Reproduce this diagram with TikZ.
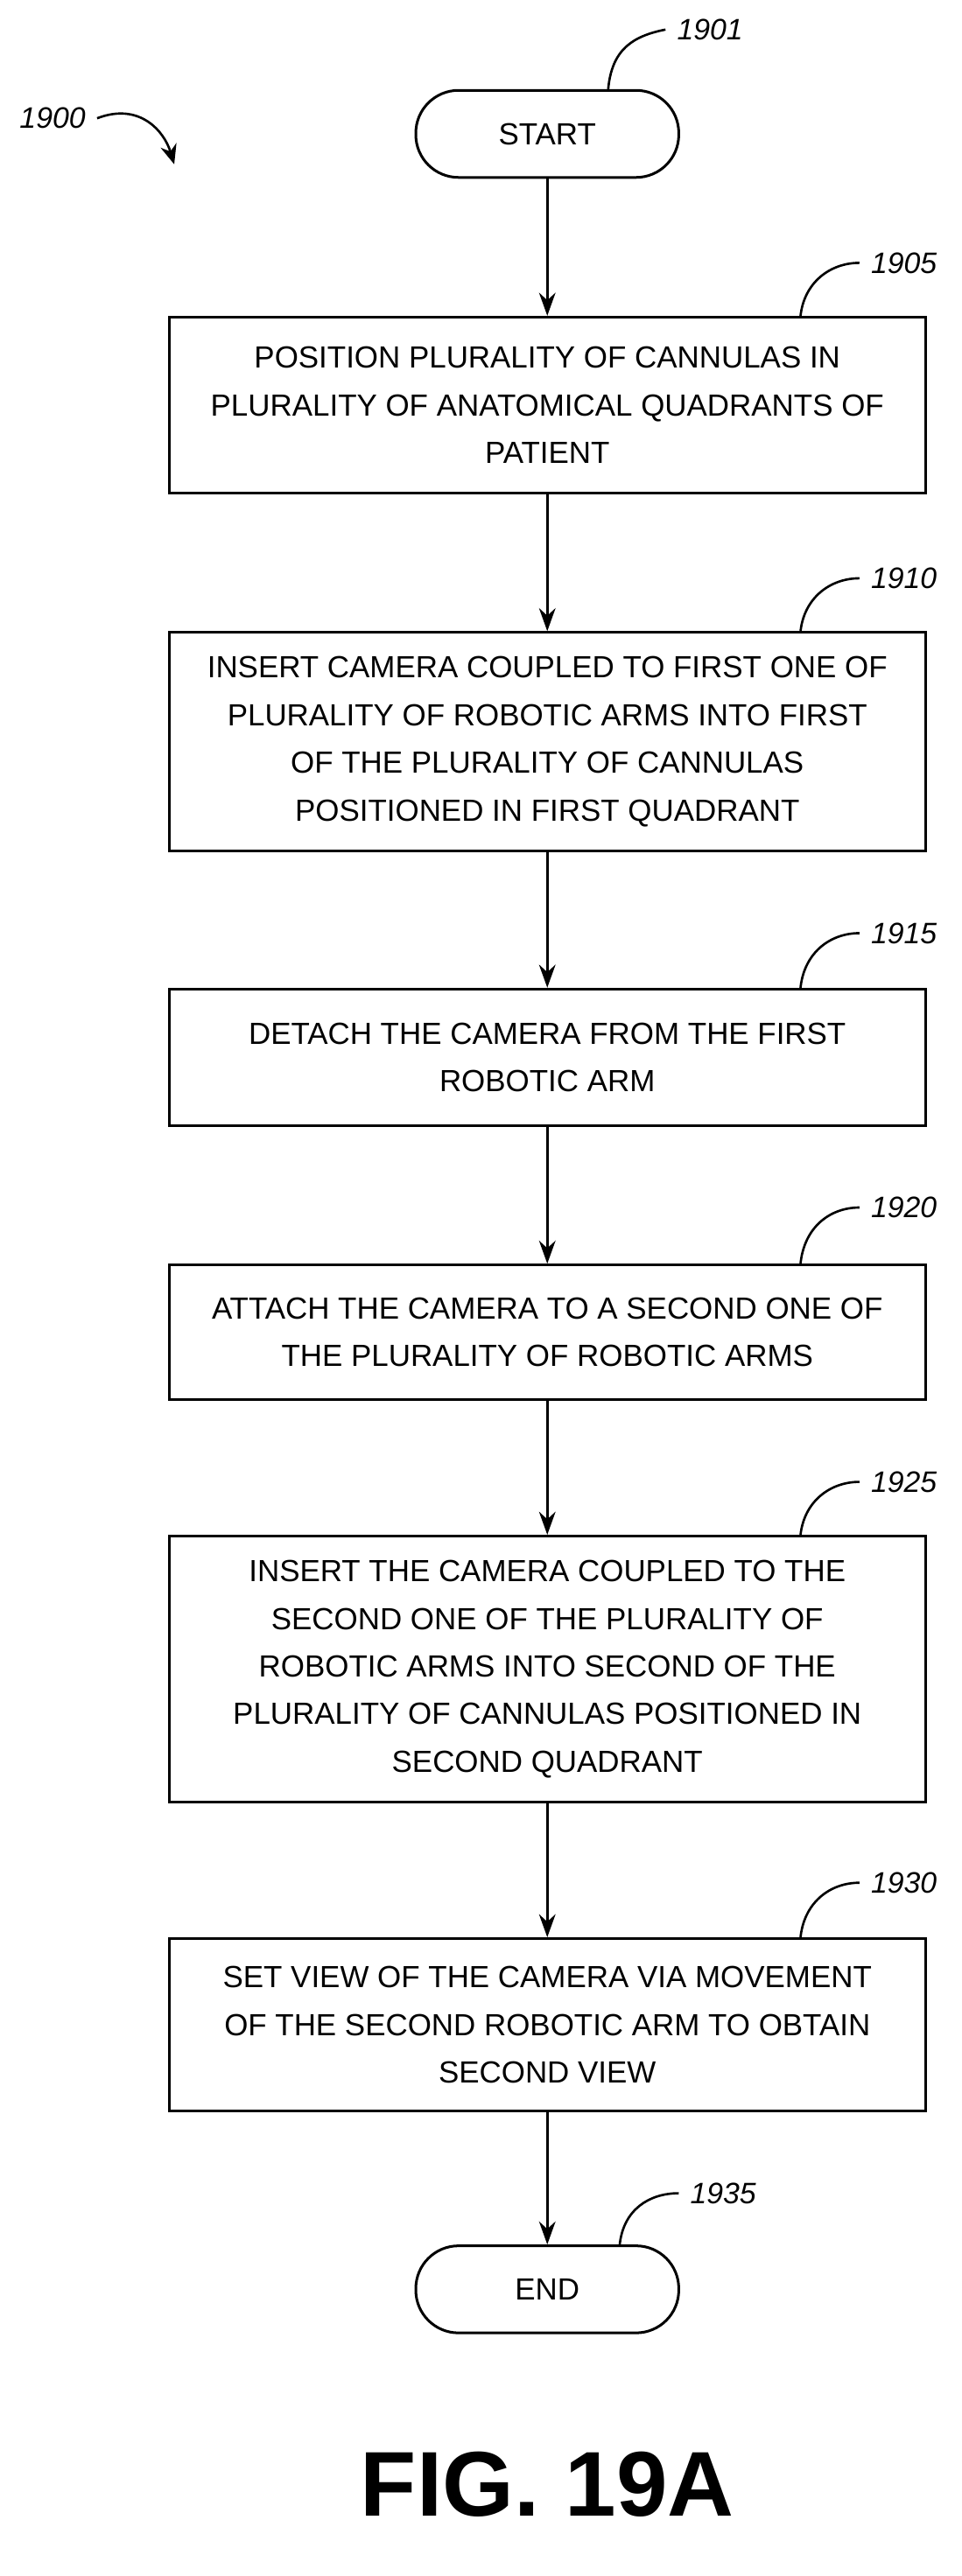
\documentclass[tikz,border=0pt]{standalone}
\usepackage{fontspec}
\setmainfont{Liberation Sans}
\usetikzlibrary{arrows.meta}
\begin{document}
\begin{tikzpicture}[x=0.5pt,y=-0.5pt,
  box/.style={draw,line width=0.8pt,minimum width=230pt,align=center,font=\fontsize{9.3}{14.5}\selectfont,inner sep=0pt},
  term/.style={draw,line width=0.8pt,rounded corners=13pt,minimum width=80pt,minimum height=26.5pt,font=\fontsize{9.3}{12}\selectfont},
  lbl/.style={font=\fontsize{9}{11}\selectfont\itshape},
  flow/.style={line width=0.8pt,-{Stealth[length=7pt,width=5pt]}},
  lead/.style={line width=0.7pt}]
\useasboundingbox (0,0) rectangle (585,1568);
\node[term] (start) at (333,81.5) {START};
\node[box,minimum height=53.5pt] (b1) at (333,246.5) {POSITION PLURALITY OF CANNULAS IN\\PLURALITY OF ANATOMICAL QUADRANTS OF\\PATIENT};
\node[box,minimum height=66.5pt] (b2) at (333,451.5) {INSERT CAMERA COUPLED TO FIRST ONE OF\\PLURALITY OF ROBOTIC ARMS INTO FIRST\\OF THE PLURALITY OF CANNULAS\\POSITIONED IN FIRST QUADRANT};
\node[box,minimum height=41.5pt] (b3) at (333,643.5) {DETACH THE CAMERA FROM THE FIRST\\ROBOTIC ARM};
\node[box,minimum height=41pt] (b4) at (333,811) {ATTACH THE CAMERA TO A SECOND ONE OF\\THE PLURALITY OF ROBOTIC ARMS};
\node[box,minimum height=81pt] (b5) at (333,1016) {INSERT THE CAMERA COUPLED TO THE\\SECOND ONE OF THE PLURALITY OF\\ROBOTIC ARMS INTO SECOND OF THE\\PLURALITY OF CANNULAS POSITIONED IN\\SECOND QUADRANT};
\node[box,minimum height=52.5pt] (b6) at (333,1232.5) {SET VIEW OF THE CAMERA VIA MOVEMENT\\OF THE SECOND ROBOTIC ARM TO OBTAIN\\SECOND VIEW};
\node[term] (end) at (333,1393.5) {END};
\draw[flow] (start) -- (b1);
\draw[flow] (b1) -- (b2);
\draw[flow] (b2) -- (b3);
\draw[flow] (b3) -- (b4);
\draw[flow] (b4) -- (b5);
\draw[flow] (b5) -- (b6);
\draw[flow] (b6) -- (end);
\node[font=\fontsize{28}{30}\selectfont\bfseries] (fig) at (333,1512) {FIG. 19A};
\node[lbl] (l1900) at (32,72) {1900};
\draw[lead,-{Stealth[length=6pt,width=5pt]}] (l1900.east) .. controls (85,62) and (100,80) .. (106,100);
\node[lbl] (l1901) at (432,18) {1901};
\draw[lead] (370,55) .. controls (372,30) and (385,22) .. (l1901.west);
\foreach \n/\y/\by in {1905/160/193,1910/352/385,1915/568/602,1920/735/770,1925/902/935,1930/1146/1180}{
  \node[lbl] (l\n) at (550,\y) {\n};
  \draw[lead] (487,\by) .. controls (489,\y+12) and (505,\y) .. (l\n.west);
}
\node[lbl] (l1935) at (440,1335) {1935};
\draw[lead] (377,1367) .. controls (379,1345) and (395,1335) .. (l1935.west);
\end{tikzpicture}
\end{document}
